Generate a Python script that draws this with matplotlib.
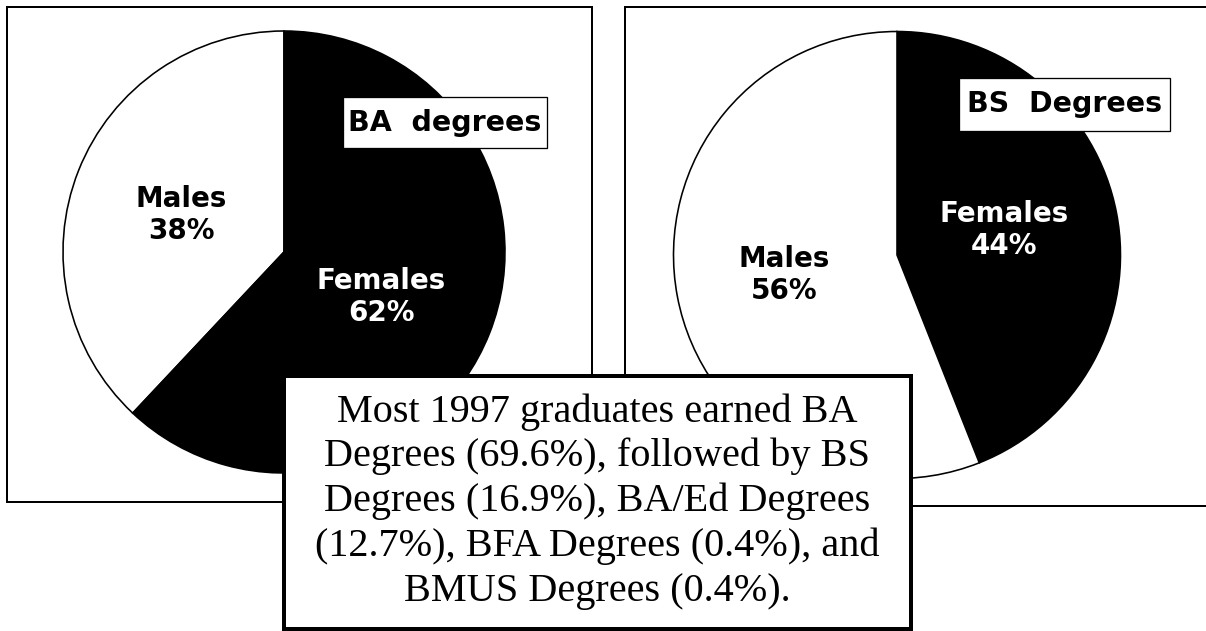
import matplotlib
matplotlib.use("Agg")
import matplotlib.pyplot as plt
from matplotlib.patches import Rectangle

# ---- data ----
ba_title = "BA  degrees"
ba_labels = ["Males", "Females"]
ba_values = [38, 62]

bs_title = "BS  Degrees"
bs_labels = ["Females", "Males"]
bs_values = [44, 56]

note_lines = [
    "Most 1997 graduates earned BA",
    "Degrees (69.6%), followed by BS",
    "Degrees (16.9%), BA/Ed Degrees",
    "(12.7%), BFA Degrees (0.4%), and",
    "BMUS Degrees (0.4%).",
]

W, H = 1206, 631
fig = plt.figure(figsize=(W / 100, H / 100), dpi=100)
ax = fig.add_axes([0, 0, 1, 1])


def Y(y):
    return H - y


px = 72 / 100  # points per pixel
sans = dict(family="DejaVu Sans", weight="bold")

# outer panel boxes
ax.add_patch(Rectangle((7, Y(502)), 585, 495, fill=False, ec="black", lw=2 * px, zorder=1))
ax.add_patch(Rectangle((625, Y(506)), 620, 499, fill=False, ec="black", lw=2 * px, zorder=1))

# pies
wp = dict(edgecolor="black", linewidth=1.6 * px)
ba_wedges, _ = ax.pie(ba_values, colors=["white", "black"], startangle=90, counterclock=True,
                      center=(284, Y(252)), radius=221, wedgeprops=wp, frame=True)
bs_wedges, _ = ax.pie(bs_values, colors=["black", "white"], startangle=90, counterclock=False,
                      center=(897, Y(255)), radius=223.5, wedgeprops=wp, frame=True)
for w in list(ba_wedges) + list(bs_wedges):
    w.set_zorder(2)

# slice labels
ba_pos = [(181, 215), (381, 297)]
ba_col = ["black", "white"]
for lab, val, (x, y), c in zip(ba_labels, ba_values, ba_pos, ba_col):
    ax.text(x, Y(y), f"{lab}\n{val}%", ha="center", va="center", color=c,
            fontsize=20, linespacing=1.15, zorder=3, **sans)

bs_pos = [(1004, 230), (784, 275)]
bs_col = ["white", "black"]
for lab, val, (x, y), c in zip(bs_labels, bs_values, bs_pos, bs_col):
    ax.text(x, Y(y), f"{lab}\n{val}%", ha="center", va="center", color=c,
            fontsize=20, linespacing=1.15, zorder=3, **sans)

# title boxes
ax.add_patch(Rectangle((343, Y(148)), 204, 51, fc="white", ec="black", lw=1.3 * px, zorder=4))
ax.text(445, Y(131), ba_title, ha="center", va="baseline", fontsize=20.5, zorder=5, **sans)
ax.add_patch(Rectangle((959, Y(131)), 211, 53, fc="white", ec="black", lw=1.3 * px, zorder=4))
ax.text(1064.5, Y(112), bs_title, ha="center", va="baseline", fontsize=20.5, zorder=5, **sans)

# note box
ax.add_patch(Rectangle((284, Y(629)), 627, 253, fc="white", ec="black", lw=4 * px, zorder=6))
baselines = [422, 466, 511, 556, 601]
for line, yb in zip(note_lines, baselines):
    ax.text(597.5, Y(yb), line, ha="center", va="baseline", fontsize=29,
            family="Liberation Serif", zorder=7)

ax.set_xlim(0, W)
ax.set_ylim(0, H)
ax.set_aspect("auto")
ax.axis("off")

fig.savefig("out.png", dpi=100, facecolor="white")
